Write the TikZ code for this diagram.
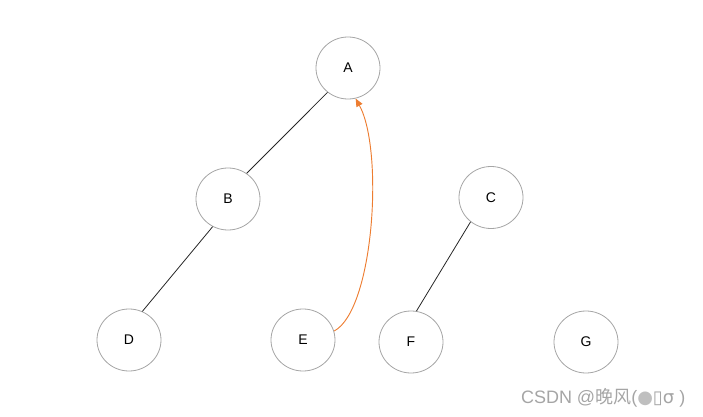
\documentclass[tikz,border=0pt]{standalone}
\usepackage{fontspec}
\setmainfont{Liberation Sans}
\newfontfamily\cjkfont{Noto Sans CJK SC}
\newfontfamily\symfont{DejaVu Sans}
\usetikzlibrary{shapes.geometric,arrows.meta}
\definecolor{ringgray}{RGB}{165,165,165}
\definecolor{arcorange}{RGB}{237,125,49}
\definecolor{markgray}{RGB}{165,165,165}
\tikzset{
  vertex/.style={draw=ringgray, ellipse, minimum width=48pt, minimum height=46.5pt, inner sep=0pt, line width=0.6pt, font=\fontsize{10.5}{12}\selectfont},
  treeedge/.style={draw=black!85, line width=0.6pt},
}

\begin{document}
\begin{tikzpicture}[x=0.75pt, y=-0.75pt]
\useasboundingbox (0,0) rectangle (703,417);
\node[vertex] (A) at (348,68) {A};
\node[vertex] (B) at (228,199) {B};
\node[vertex] (C) at (491,197.5) {C};
\node[vertex] (D) at (129,340) {D};
\node[vertex] (E) at (303,340) {E};
\node[vertex] (F) at (411,342) {F};
\node[vertex] (G) at (586,342) {G};
\draw[treeedge] (A.-130) -- (B.54);
\draw[treeedge] (B.-119) -- (D.65);
\draw[treeedge] (C.-130) -- (F.80);
\draw[arcorange, line width=0.7pt, -{Triangle[length=6pt,width=5pt]}] (E.16) .. controls (374,310) and (384,150) .. (A.-76);
\node[text=markgray, anchor=east, font=\fontsize{13.5}{15}\selectfont] (mark) at (690,398) {CSDN @{\cjkfont 晚风}({\symfont\color{black!25}●\color{markgray}▯σ} )};
\end{tikzpicture}
\end{document}
